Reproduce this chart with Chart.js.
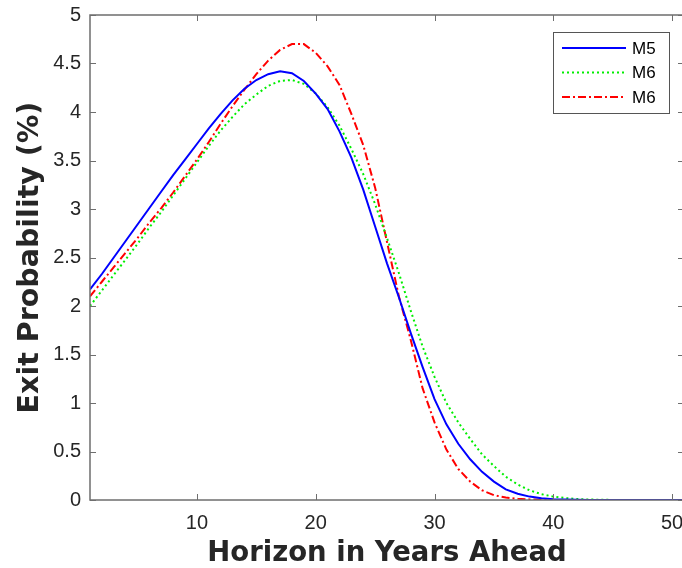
<!DOCTYPE html>
<html>
<head>
<meta charset="utf-8">
<script src="https://cdn.jsdelivr.net/npm/chart.js@4"></script>
<style>
  html, body { margin: 0; padding: 0; background: #fff; overflow: hidden; }
  #wrap { width: 682px; height: 568px; overflow: hidden; }
</style>
</head>
<body>
<div id="wrap"><canvas id="chart" width="700" height="568"></canvas></div>
<script>
// horizon in years
const years = [1, 2, 3, 4, 5, 6, 7, 8, 9, 10, 11, 12, 13, 14, 15, 16, 17, 18, 19, 20,
  21, 22, 23, 24, 25, 26, 27, 28, 29, 30, 31, 32, 33, 34, 35, 36, 37, 38, 39, 40,
  41, 42, 43, 44, 45, 46, 47, 48, 49, 50, 51];

// exit probability (%) per model
const m5 = [2.17, 2.33, 2.50, 2.67, 2.84, 3.01, 3.18, 3.35, 3.51, 3.67,
  3.83, 3.98, 4.12, 4.24, 4.33, 4.39, 4.42, 4.40, 4.32, 4.19,
  4.03, 3.80, 3.53, 3.20, 2.82, 2.44, 2.09, 1.72, 1.37, 1.04,
  0.78, 0.58, 0.42, 0.29, 0.19, 0.11, 0.065, 0.035, 0.018, 0.008,
  0.004, 0.002, 0.001, 0, 0, 0, 0, 0, 0, 0, 0];
const m6a = [2.00, 2.16, 2.32, 2.48, 2.64, 2.81, 2.97, 3.14, 3.31, 3.48,
  3.65, 3.81, 3.95, 4.08, 4.18, 4.27, 4.32, 4.33, 4.29, 4.19,
  4.05, 3.86, 3.62, 3.36, 3.05, 2.70, 2.34, 1.95, 1.58, 1.27,
  1.00, 0.80, 0.63, 0.47, 0.35, 0.24, 0.16, 0.10, 0.06, 0.035,
  0.02, 0.01, 0.005, 0.002, 0.001, 0, 0, 0, 0, 0, 0];
const m6b = [2.10, 2.25, 2.40, 2.55, 2.70, 2.86, 3.01, 3.17, 3.34, 3.51,
  3.69, 3.88, 4.06, 4.23, 4.39, 4.53, 4.64, 4.70, 4.70, 4.61,
  4.47, 4.28, 3.98, 3.66, 3.22, 2.66, 2.10, 1.65, 1.15, 0.80,
  0.52, 0.32, 0.19, 0.10, 0.05, 0.025, 0.012, 0.006, 0.003, 0.001,
  0, 0, 0, 0, 0, 0, 0, 0, 0, 0, 0];

const xTicks = [10, 20, 30, 40, 50];
const yTicks = [0, 0.5, 1, 1.5, 2, 2.5, 3, 3.5, 4, 4.5, 5];

const toPoints = vals => vals.map((v, i) => ({ x: years[i], y: v }));

const axisColor = '#6e6e6e';
const textColor = '#262626';
const tickFont = { family: '"Liberation Sans", Arial, sans-serif', size: 20 };
const xTitleFont = { family: '"DejaVu Sans", sans-serif', size: 27.5, weight: 'bold', lineHeight: 1 };
const yTitleFont = { family: '"DejaVu Sans", sans-serif', size: 28.5, weight: 'bold', lineHeight: 1 };

// box around the axes with inward ticks, plus the legend in the upper right
const framePlugin = {
  id: 'frame',
  afterDraw(chart) {
    const ctx = chart.ctx;
    const a = chart.chartArea;
    const xs = chart.scales.x, ys = chart.scales.y;
    const len = 6;
    ctx.save();
    ctx.strokeStyle = axisColor;
    ctx.lineWidth = 1.5;
    ctx.strokeRect(a.left, a.top, a.right - a.left, a.bottom - a.top);
    ctx.lineWidth = 1;
    ctx.beginPath();
    xTicks.forEach(t => {
      const px = Math.round(xs.getPixelForValue(t)) + 0.5;
      ctx.moveTo(px, a.bottom); ctx.lineTo(px, a.bottom - len);
      ctx.moveTo(px, a.top); ctx.lineTo(px, a.top + len);
    });
    yTicks.forEach(t => {
      const py = Math.round(ys.getPixelForValue(t)) + 0.5;
      ctx.moveTo(a.left, py); ctx.lineTo(a.left + len, py);
      ctx.moveTo(a.right, py); ctx.lineTo(a.right - len, py);
    });
    ctx.stroke();

    // legend
    const bx = 553.5, by = 32.5, bw = 116, bh = 81;
    ctx.fillStyle = '#fff';
    ctx.fillRect(bx, by, bw, bh);
    ctx.strokeStyle = '#555';
    ctx.lineWidth = 1;
    ctx.strokeRect(bx, by, bw, bh);
    ctx.font = '17px "Liberation Sans", Arial, sans-serif';
    ctx.textBaseline = 'middle';
    chart.data.datasets.forEach((ds, i) => {
      const y = 48 + i * 24.5;
      ctx.strokeStyle = ds.borderColor;
      ctx.lineWidth = ds.borderWidth;
      ctx.setLineDash(ds.borderDash || []);
      ctx.beginPath();
      ctx.moveTo(562, y);
      ctx.lineTo(626, y);
      ctx.stroke();
      ctx.setLineDash([]);
      ctx.fillStyle = '#000';
      ctx.fillText(ds.label, 632, y + 1);
    });
    ctx.restore();
  }
};

new Chart(document.getElementById('chart'), {
  type: 'line',
  data: {
    datasets: [
      { label: 'M5', data: toPoints(m5), borderColor: '#0000ff', borderWidth: 2 },
      { label: 'M6', data: toPoints(m6a), borderColor: '#00ee00', borderWidth: 2, borderDash: [2, 3] },
      { label: 'M6', data: toPoints(m6b), borderColor: '#ff0000', borderWidth: 2, borderDash: [8, 3, 2, 3] }
    ]
  },
  options: {
    responsive: false,
    animation: false,
    events: [],
    layout: { padding: { top: 15, right: 16, left: 0, bottom: 0 } },
    elements: { point: { radius: 0 }, line: { tension: 0, fill: false } },
    plugins: { legend: { display: false }, tooltip: { enabled: false } },
    scales: {
      x: {
        type: 'linear', min: 1, max: 51,
        grid: { display: false, drawTicks: false }, border: { display: false },
        afterBuildTicks: s => { s.ticks = xTicks.map(v => ({ value: v })); },
        afterFit: s => { s.height = 68; s.paddingLeft = 0; s.paddingRight = 0; },
        ticks: { color: textColor, padding: 11, font: tickFont },
        title: {
          display: true, text: 'Horizon in Years Ahead', color: textColor,
          font: xTitleFont, padding: { top: 0, bottom: 0 }
        }
      },
      y: {
        min: 0, max: 5,
        grid: { display: false, drawTicks: false }, border: { display: false },
        afterBuildTicks: s => { s.ticks = yTicks.map(v => ({ value: v })); },
        afterFit: s => { s.width = 90; s.paddingTop = 0; s.paddingBottom = 0; },
        ticks: { color: textColor, padding: 9, font: tickFont, callback: v => String(v) },
        title: {
          display: true, text: 'Exit Probability (%)', color: textColor,
          font: yTitleFont, padding: { top: 16, bottom: 0 }
        }
      }
    }
  },
  plugins: [framePlugin]
});
</script>
</body>
</html>
